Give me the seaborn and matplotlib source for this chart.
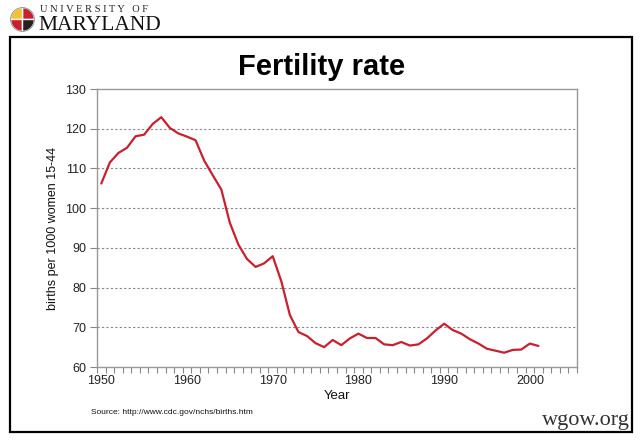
import matplotlib
matplotlib.use("Agg")
import matplotlib.pyplot as plt
import matplotlib.patches as mpatches
import numpy as np
import pandas as pd
import seaborn as sns

# General fertility rate, births per 1000 women aged 15-44
years = list(range(1950, 2002))
rates = [106.2, 111.5, 113.9, 115.2, 118.1, 118.5, 121.2, 122.9, 120.2, 118.8,
         118.0, 117.1, 112.0, 108.3, 104.7, 96.3, 90.8, 87.2, 85.2, 86.1,
         87.9, 81.6, 73.1, 68.8, 67.8, 66.0, 65.0, 66.8, 65.5, 67.2,
         68.4, 67.3, 67.3, 65.7, 65.5, 66.3, 65.4, 65.7, 67.2, 69.2,
         70.9, 69.3, 68.4, 67.0, 65.9, 64.6, 64.1, 63.6, 64.3, 64.4,
         65.9, 65.3]
decade_labels = [1950, 1960, 1970, 1980, 1990, 2000]
y_ticks = [60, 70, 80, 90, 100, 110, 120, 130]

df = pd.DataFrame({"Year": years, "Rate": rates})

sns.set_style("white")
plt.rcParams["font.family"] = ["Liberation Sans", "DejaVu Sans"]

fig = plt.figure(figsize=(6.4, 4.41), dpi=100)
fig.patch.set_facecolor("white")

# slide frame
frame = mpatches.Rectangle((10 / 640, 1 - 432 / 441), 622 / 640, 395 / 441,
                           transform=fig.transFigure, fill=False,
                           edgecolor="black", linewidth=1.6)
fig.add_artist(frame)

# university logo (rough)
logo_ax = fig.add_axes([10 / 640, 1 - 32 / 441, 25 / 640, 25 / 441])
logo_ax.set_aspect("equal")
logo_ax.axis("off")
cols = ["#c8202f", "#f2c230", "#c8202f", "#222222"]
for i, c in enumerate(cols):
    logo_ax.add_patch(mpatches.Wedge((0, 0), 1, 90 * i, 90 * (i + 1), facecolor=c))
logo_ax.add_patch(mpatches.Circle((0, 0), 1, fill=False, edgecolor="#888888", lw=0.6))
logo_ax.set_xlim(-1.05, 1.05)
logo_ax.set_ylim(-1.05, 1.05)

fig.text(40 / 640, 1 - 10 / 441, "U N I V E R S I T Y   O F", fontsize=7.5,
         family=["Liberation Serif", "DejaVu Serif"], va="center", ha="left",
         color="#222222")
fig.text(38 / 640, 1 - 25 / 441, "MARYLAND", fontsize=15.5,
         family=["Liberation Serif", "DejaVu Serif"], va="center", ha="left",
         color="#111111")

ax = fig.add_axes([97 / 640, 1 - 367 / 441, 480 / 640, 278 / 441])
sns.lineplot(data=df, x="Year", y="Rate", ax=ax, color="#c8202f",
             linewidth=1.6)

ax.set_xlim(1949.5, 2005.5)
ax.set_ylim(60, 130)
ax.set_yticks(y_ticks)
ax.set_xticks(decade_labels)
ax.set_xticks(np.arange(1949.5, 2006, 1), minor=True)
ax.tick_params(axis="x", which="both", bottom=True)
ax.tick_params(axis="y", left=True)
ax.tick_params(axis="x", which="major", length=0, labelsize=9, pad=6,
               colors="#222222")
ax.tick_params(axis="x", which="minor", length=4, width=0.8,
               color="#888888", direction="out")
ax.tick_params(axis="y", length=5, width=0.8, color="#888888",
               labelsize=9, labelcolor="#222222", direction="out", pad=3)

for v in y_ticks[1:-1]:
    ax.axhline(v, color="#888888", linestyle=(0, (2, 2)), linewidth=0.8,
               zorder=0)

for s in ax.spines.values():
    s.set_visible(True)
    s.set_color("#999999")
    s.set_linewidth(1.0)

ax.set_xlabel("Year", fontsize=9.5, labelpad=2, color="#111111")
ax.set_ylabel("births per 1000 women 15-44", fontsize=9, labelpad=4,
              color="#111111")

fig.text(322 / 640, 1 - 67 / 441, "Fertility rate", fontsize=21,
         fontweight="bold", ha="center", va="center", color="black")
fig.text(91 / 640, 1 - 413 / 441, "Source: http://www.cdc.gov/nchs/births.htm",
         fontsize=6, ha="left", va="center", color="#111111")
fig.text(630 / 640, 1 - 420 / 441, "wgow.org", fontsize=16,
         family=["Liberation Serif", "DejaVu Serif"], ha="right",
         va="center", color="#333333")

fig.savefig("out.png", dpi=100, facecolor="white")
